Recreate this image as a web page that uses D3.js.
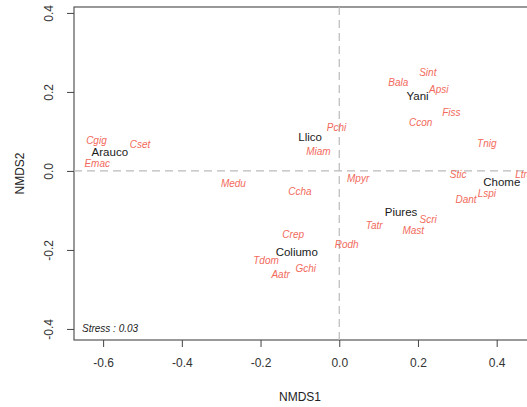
<!DOCTYPE html>
<meta charset="utf-8">
<script src="https://cdn.jsdelivr.net/npm/d3@7"></script>
<style>
  body { margin: 0; background: #fff; }
  text { font-family: "Liberation Sans", Arial, Helvetica, sans-serif; }
</style>
<div id="my_dataviz"></div>
<script>

// sites (black labels)
var siteNames = ["Arauco", "Llico", "Yani", "Chome", "Piures", "Coliumo"];
var siteX = [-0.583, -0.074, 0.199, 0.413, 0.157, -0.108];
var siteY = [0.047, 0.085, 0.190, -0.027, -0.103, -0.205];

// species (red italic labels)
var spNames = ["Cgig", "Cset", "Emac", "Medu", "Ccha", "Pchi", "Miam", "Mpyr",
  "Sint", "Bala", "Apsi", "Fiss", "Ccon", "Tnig", "Stic", "Ltra", "Lspi", "Dant",
  "Scri", "Mast", "Tatr", "Rodh", "Crep", "Tdom", "Gchi", "Aatr"];
var spX = [-0.617, -0.506, -0.615, -0.269, -0.100, -0.007, -0.053, 0.048,
  0.225, 0.150, 0.253, 0.285, 0.207, 0.375, 0.302, 0.469, 0.375, 0.322,
  0.226, 0.188, 0.089, 0.019, -0.117, -0.186, -0.085, -0.149];
var spY = [0.078, 0.066, 0.020, -0.033, -0.052, 0.111, 0.049, -0.020,
  0.250, 0.225, 0.207, 0.149, 0.123, 0.070, -0.008, -0.008, -0.058, -0.073,
  -0.124, -0.151, -0.137, -0.187, -0.162, -0.228, -0.246, -0.261];

var xTicks = [-0.6, -0.4, -0.2, 0.0, 0.2, 0.4];
var yTicks = [-0.4, -0.2, 0.0, 0.2, 0.4];
var stress = "Stress : 0.03";

var W = 527, H = 407;
var margin = {left: 74, right: 528, top: 7, bottom: 340};

var svg = d3.select("#my_dataviz")
  .append("svg")
    .attr("width", W)
    .attr("height", H);

var x = d3.scaleLinear().domain([-0.674, 0.4796]).range([margin.left, margin.right]);
var y = d3.scaleLinear().domain([-0.428, 0.415]).range([margin.bottom, margin.top]);

// R prints a plain hyphen for negatives
var fmt = function(d) { return d.toFixed(1); };

// box
svg.append("rect")
  .attr("x", margin.left).attr("y", margin.top)
  .attr("width", margin.right - margin.left).attr("height", margin.bottom - margin.top)
  .attr("fill", "none").attr("stroke", "#555").attr("stroke-width", 1.2);

// zero lines
svg.append("line")
  .attr("x1", margin.left).attr("x2", margin.right)
  .attr("y1", y(0)).attr("y2", y(0))
  .attr("stroke", "#bbb").attr("stroke-width", 1.2)
  .attr("stroke-dasharray", "8,5");
svg.append("line")
  .attr("x1", x(0)).attr("x2", x(0))
  .attr("y1", margin.top).attr("y2", margin.bottom)
  .attr("stroke", "#bbb").attr("stroke-width", 1.2)
  .attr("stroke-dasharray", "8,5");

// x axis
var xAxis = svg.append("g")
  .attr("transform", "translate(0," + margin.bottom + ")")
  .call(d3.axisBottom(x).tickValues(xTicks).tickSize(7).tickPadding(11).tickFormat(fmt));
xAxis.select(".domain").remove();
xAxis.selectAll("line").attr("stroke", "#444");
xAxis.selectAll("text").attr("font-size", 12).attr("fill", "#333")
  .style("font-family", "Liberation Sans, Arial, sans-serif");

// y axis, R-style rotated labels
var yAxis = svg.append("g")
  .attr("transform", "translate(" + margin.left + ",0)")
  .call(d3.axisLeft(y).tickValues(yTicks).tickSize(7).tickFormat(fmt));
yAxis.select(".domain").remove();
yAxis.selectAll("line").attr("stroke", "#444");
yAxis.selectAll("text")
  .attr("font-size", 12).attr("fill", "#333")
  .style("font-family", "Liberation Sans, Arial, sans-serif")
  .attr("x", 0)
  .attr("text-anchor", "middle")
  .attr("transform", "translate(-25,0) rotate(-90)")
  .attr("dy", "0.35em");

// axis titles
svg.append("text")
  .attr("x", 300).attr("y", 401)
  .attr("text-anchor", "middle").attr("font-size", 12).attr("fill", "#222")
  .text("NMDS1");
svg.append("text")
  .attr("transform", "translate(24," + ((margin.top + margin.bottom) / 2) + ") rotate(-90)")
  .attr("text-anchor", "middle").attr("font-size", 12).attr("fill", "#222")
  .text("NMDS2");

// species labels
svg.selectAll("text.sp")
  .data(spNames)
  .enter()
  .append("text")
    .attr("class", "sp")
    .attr("x", function(d, i) { return x(spX[i]); })
    .attr("y", function(d, i) { return y(spY[i]); })
    .attr("dy", "0.35em")
    .attr("text-anchor", "middle")
    .attr("font-size", 10)
    .attr("font-style", "italic")
    .attr("fill", "#f26a5c")
    .text(function(d) { return d; });

// site labels
svg.selectAll("text.site")
  .data(siteNames)
  .enter()
  .append("text")
    .attr("class", "site")
    .attr("x", function(d, i) { return x(siteX[i]); })
    .attr("y", function(d, i) { return y(siteY[i]); })
    .attr("dy", "0.35em")
    .attr("text-anchor", "middle")
    .attr("font-size", 11.5)
    .attr("fill", "#1a1a1a")
    .text(function(d) { return d; });

// stress
svg.append("text")
  .attr("x", 82).attr("y", 328)
  .attr("dy", "0.35em")
  .attr("font-size", 10)
  .attr("font-style", "italic")
  .attr("fill", "#222")
  .text(stress);

</script>
